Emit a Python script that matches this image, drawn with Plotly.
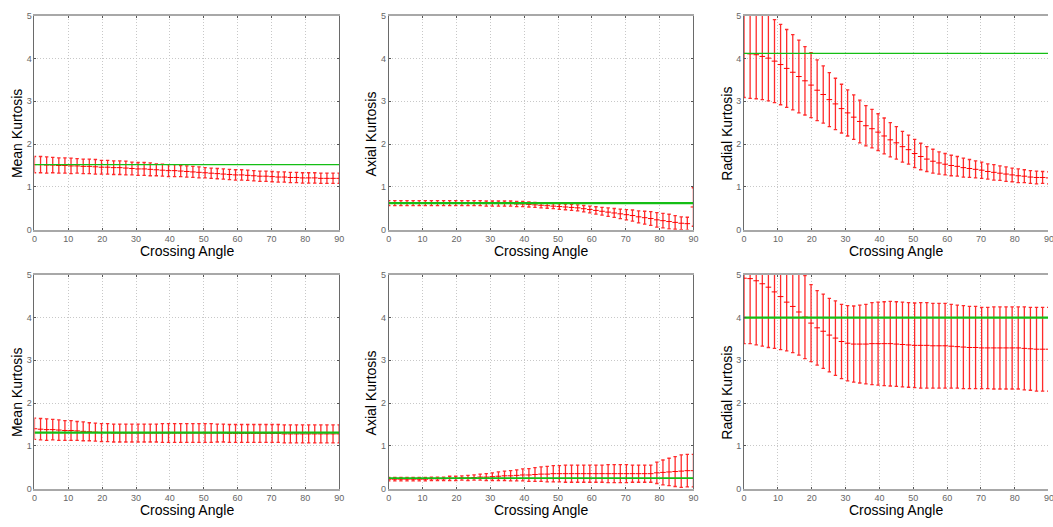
import plotly.graph_objects as go

# ---------------- data ----------------
angles = [0, 1.8, 3.6, 5.4, 7.2, 9, 10.8, 12.6, 14.4, 16.2, 18, 19.8, 21.6, 23.4, 25.2, 27,
          28.8, 30.6, 32.4, 34.2, 36, 37.8, 39.6, 41.4, 43.2, 45, 46.8, 48.6, 50.4, 52.2, 54,
          55.8, 57.6, 59.4, 61.2, 63, 64.8, 66.6, 68.4, 70.2, 72, 73.8, 75.6, 77.4, 79.2, 81,
          82.8, 84.6, 86.4, 88.2, 90]

# top row
mean_top = [1.52, 1.52, 1.51, 1.51, 1.50, 1.50, 1.49, 1.49, 1.48, 1.48, 1.47, 1.46, 1.46, 1.45, 1.45, 1.44,
            1.43, 1.42, 1.42, 1.41, 1.40, 1.39, 1.38, 1.38, 1.37, 1.36, 1.35, 1.34, 1.33, 1.32, 1.31,
            1.30, 1.29, 1.28, 1.28, 1.27, 1.26, 1.25, 1.25, 1.24, 1.23, 1.23, 1.22, 1.22, 1.21, 1.21,
            1.21, 1.20, 1.20, 1.20, 1.20]
mean_top_err = [0.19, 0.19, 0.19, 0.18, 0.18, 0.18, 0.18, 0.17, 0.17, 0.17, 0.17, 0.16, 0.16, 0.16, 0.16, 0.16,
                0.15, 0.15, 0.15, 0.15, 0.14, 0.14, 0.14, 0.14, 0.13, 0.13, 0.13, 0.13, 0.12, 0.12, 0.12,
                0.12, 0.12, 0.12, 0.12, 0.12, 0.12, 0.12, 0.12, 0.12, 0.12, 0.12, 0.12, 0.12, 0.12, 0.12,
                0.12, 0.12, 0.12, 0.12, 0.12]
mean_top_ref = 1.52

axial_top = [0.62, 0.62, 0.62, 0.62, 0.62, 0.62, 0.62, 0.62, 0.62, 0.62, 0.62, 0.62, 0.62, 0.62, 0.62, 0.62,
             0.61, 0.61, 0.61, 0.61, 0.61, 0.60, 0.60, 0.59, 0.58, 0.57, 0.56, 0.55, 0.54, 0.53, 0.52,
             0.51, 0.49, 0.47, 0.45, 0.43, 0.41, 0.39, 0.37, 0.35, 0.33, 0.30, 0.28, 0.26, 0.23, 0.21,
             0.19, 0.17, 0.15, 0.14, 0.53]
axial_top_err = [0.06, 0.06, 0.06, 0.06, 0.06, 0.06, 0.06, 0.06, 0.06, 0.06, 0.06, 0.06, 0.06, 0.06, 0.06, 0.06,
                 0.06, 0.06, 0.06, 0.06, 0.06, 0.06, 0.06, 0.06, 0.06, 0.06, 0.06, 0.06, 0.065, 0.065, 0.07,
                 0.07, 0.075, 0.08, 0.085, 0.09, 0.10, 0.105, 0.11, 0.12, 0.13, 0.14, 0.15, 0.16, 0.17, 0.17,
                 0.17, 0.16, 0.15, 0.15, 0.45]
axial_top_ref = 0.62

radial_top = [4.12, 4.11, 4.09, 4.05, 4.01, 3.94, 3.86, 3.77, 3.68, 3.58, 3.48, 3.38, 3.26, 3.16, 3.04, 2.94,
              2.83, 2.73, 2.63, 2.53, 2.43, 2.36, 2.28, 2.19, 2.10, 2.03, 1.94, 1.87, 1.78, 1.71, 1.65,
              1.60, 1.56, 1.53, 1.50, 1.48, 1.45, 1.43, 1.41, 1.39, 1.36, 1.34, 1.32, 1.30, 1.28, 1.26,
              1.25, 1.23, 1.22, 1.22, 1.21]
radial_top_err = [1.03, 1.04, 1.03, 1.01, 1.00, 0.97, 0.94, 0.91, 0.88, 0.85, 0.80, 0.76, 0.71, 0.67, 0.63, 0.60,
                  0.57, 0.54, 0.52, 0.50, 0.47, 0.45, 0.43, 0.42, 0.40, 0.38, 0.36, 0.34, 0.33, 0.31, 0.29,
                  0.28, 0.26, 0.25, 0.24, 0.23, 0.22, 0.21, 0.20, 0.19, 0.18, 0.18, 0.17, 0.17, 0.16, 0.16,
                  0.15, 0.15, 0.15, 0.14, 0.14]
radial_top_ref = 4.12

# bottom row
mean_bot = [1.40, 1.39, 1.38, 1.38, 1.37, 1.36, 1.36, 1.35, 1.34, 1.33, 1.32, 1.31, 1.31, 1.30, 1.30, 1.30,
            1.30, 1.30, 1.30, 1.30, 1.30, 1.30, 1.30, 1.30, 1.30, 1.30, 1.30, 1.30, 1.30, 1.30, 1.30,
            1.30, 1.29, 1.29, 1.29, 1.29, 1.29, 1.29, 1.29, 1.29, 1.29, 1.28, 1.28, 1.28, 1.28, 1.28,
            1.28, 1.28, 1.28, 1.28, 1.28]
mean_bot_err = [0.25, 0.25, 0.25, 0.24, 0.24, 0.23, 0.23, 0.22, 0.22, 0.21, 0.21, 0.21, 0.21, 0.21, 0.21, 0.21,
                0.21, 0.21, 0.21, 0.21, 0.21, 0.22, 0.22, 0.22, 0.22, 0.22, 0.22, 0.22, 0.22, 0.22, 0.21,
                0.21, 0.21, 0.21, 0.21, 0.21, 0.21, 0.21, 0.21, 0.21, 0.21, 0.21, 0.21, 0.21, 0.21, 0.21,
                0.21, 0.21, 0.21, 0.21, 0.21]
mean_bot_ref = 1.31

axial_bot = [0.22, 0.22, 0.22, 0.22, 0.22, 0.22, 0.22, 0.23, 0.23, 0.23, 0.24, 0.24, 0.25, 0.25, 0.26, 0.27,
             0.27, 0.28, 0.29, 0.30, 0.30, 0.31, 0.32, 0.32, 0.33, 0.34, 0.34, 0.35, 0.35, 0.35, 0.35,
             0.35, 0.35, 0.35, 0.35, 0.35, 0.35, 0.35, 0.35, 0.35, 0.35, 0.35, 0.35, 0.35, 0.37, 0.38,
             0.39, 0.40, 0.41, 0.42, 0.42]
axial_bot_err = [0.04, 0.04, 0.04, 0.04, 0.04, 0.04, 0.04, 0.04, 0.04, 0.04, 0.05, 0.05, 0.05, 0.06, 0.06, 0.07,
                 0.08, 0.09, 0.10, 0.11, 0.12, 0.13, 0.14, 0.15, 0.16, 0.17, 0.18, 0.19, 0.19, 0.20, 0.20,
                 0.20, 0.20, 0.20, 0.20, 0.20, 0.21, 0.21, 0.21, 0.21, 0.20, 0.20, 0.20, 0.20, 0.25, 0.29,
                 0.32, 0.35, 0.38, 0.38, 0.38]
axial_bot_ref = 0.245

radial_bot = [4.92, 4.91, 4.86, 4.79, 4.71, 4.60, 4.49, 4.36, 4.26, 4.13, 4.01, 3.87, 3.76, 3.68, 3.59, 3.52,
              3.44, 3.40, 3.38, 3.38, 3.38, 3.39, 3.39, 3.39, 3.39, 3.38, 3.37, 3.36, 3.35, 3.35, 3.35,
              3.34, 3.34, 3.34, 3.33, 3.32, 3.31, 3.30, 3.30, 3.29, 3.29, 3.29, 3.29, 3.29, 3.29, 3.29,
              3.28, 3.27, 3.26, 3.26, 3.26]
radial_bot_err = [1.53, 1.52, 1.50, 1.46, 1.41, 1.32, 1.24, 1.14, 1.08, 1.01, 0.97, 0.90, 0.87, 0.87, 0.86, 0.87,
                  0.87, 0.88, 0.89, 0.91, 0.93, 0.96, 0.97, 0.98, 0.99, 0.99, 0.99, 0.99, 0.99, 1.00, 1.00,
                  0.99, 0.99, 0.99, 0.98, 0.97, 0.97, 0.96, 0.96, 0.95, 0.95, 0.96, 0.96, 0.96, 0.96, 0.96,
                  0.97, 0.97, 0.98, 0.98, 0.98]
radial_bot_ref = 4.0

y_titles = ["Mean Kurtosis", "Axial Kurtosis", "Radial Kurtosis"]
x_title = "Crossing Angle"
x_ticks = [0, 10, 20, 30, 40, 50, 60, 70, 80, 90]
y_ticks = [0, 1, 2, 3, 4, 5]

series = [
    (mean_top, mean_top_err, mean_top_ref),
    (axial_top, axial_top_err, axial_top_ref),
    (radial_top, radial_top_err, radial_top_ref),
    (mean_bot, mean_bot_err, mean_bot_ref),
    (axial_bot, axial_bot_err, axial_bot_ref),
    (radial_bot, radial_bot_err, radial_bot_ref),
]

# ---------------- layout geometry (pixels) ----------------
W, H = 1053, 527
col_left = [31.7, 388.7, 746.7]
plot_w = 307.0
row_top = [11.0, 275.0]
plot_h = 218.0
green_w = [1.2, 2.2, 1.2, 2.2, 1.6, 2.2]
FONT = "Liberation Sans, Arial, sans-serif"

fig = go.Figure()
layout = dict(
    width=W, height=H, margin=dict(l=0, r=0, t=0, b=0),
    paper_bgcolor="white", plot_bgcolor="white", showlegend=False,
    font=dict(family=FONT, color="#000"),
)
annotations = []

for i, (vals, errs, ref) in enumerate(series):
    r, c = divmod(i, 3)
    n = i + 1
    xa = "x" if n == 1 else f"x{n}"
    ya = "y" if n == 1 else f"y{n}"
    x0 = col_left[c] / W
    x1 = min((col_left[c] + plot_w) / W, 1.0)
    xmax = 90 * (min(col_left[c] + plot_w, W) - col_left[c]) / plot_w
    y1 = 1 - row_top[r] / H
    y0 = 1 - (row_top[r] + plot_h) / H

    fig.add_trace(go.Scatter(
        x=angles, y=vals, mode="markers", xaxis=xa, yaxis=ya,
        marker=dict(symbol="line-ew", size=4, color="red", line=dict(color="red", width=1)),
        error_y=dict(type="data", array=errs, visible=True, color="rgba(255,20,20,0.9)",
                     thickness=1.3, width=1.7),
        cliponaxis=True,
    ))
    fig.add_trace(go.Scatter(
        x=[angles[0], angles[-1]], y=[ref, ref], mode="lines", xaxis=xa, yaxis=ya,
        line=dict(color="rgb(20,190,20)", width=green_w[i]),
    ))

    grid_common = dict(
        showgrid=True, gridcolor="#c8c8c8", griddash="1px,2px", gridwidth=1,
        zeroline=False, ticks="inside", ticklen=2,
        tickfont=dict(size=9, color="#666", family=FONT),
    )
    layout["xaxis" if n == 1 else f"xaxis{n}"] = dict(
        grid_common, domain=[x0, x1], anchor=ya, range=[0, xmax],
        tickvals=x_ticks, mirror="ticks", showline=True, linecolor="#a8a8a8",
        linewidth=2, tickcolor="#555",
    )
    layout["yaxis" if n == 1 else f"yaxis{n}"] = dict(
        grid_common, domain=[y0, y1], anchor=xa, range=[0, 5],
        tickvals=y_ticks, mirror=("ticks" if c < 2 else False), showline=True,
        linecolor="#6a6a6a", linewidth=1, tickcolor="#555",
    )

    # axis titles
    annotations.append(dict(
        text=y_titles[c], textangle=-90, showarrow=False,
        xref="paper", yref="paper",
        x=(col_left[c] - 18) / W, y=1 - (row_top[r] + 120) / H,
        xanchor="center", yanchor="middle", font=dict(size=14, color="#000"),
    ))
    annotations.append(dict(
        text=x_title, showarrow=False, xref="paper", yref="paper",
        x=(col_left[c] + plot_w / 2) / W, y=1 - (row_top[r] + plot_h + 22) / H,
        xanchor="center", yanchor="middle", font=dict(size=14, color="#000"),
    ))
    if c == 2:
        # last tick label that falls just past the window edge
        annotations.append(dict(
            text=str(x_ticks[-1]), showarrow=False, xref="paper", yref="paper",
            x=x0 + (x1 - x0) * x_ticks[-1] / xmax, y=1 - (row_top[r] + plot_h + 10) / H,
            xanchor="center", yanchor="middle", font=dict(size=9, color="#666"),
        ))

layout["annotations"] = annotations
fig.update_layout(**layout)
fig.write_html("out.html")
